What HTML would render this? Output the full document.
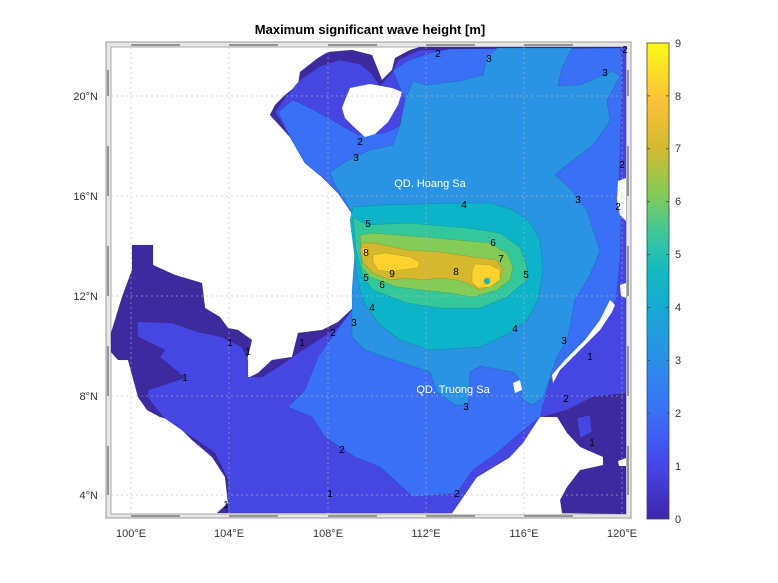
<!DOCTYPE html>
<html><head><meta charset="utf-8"><style>
body{margin:0;background:#fff;}
svg{display:block;font-family:"Liberation Sans",sans-serif;}
</style></head><body>
<svg width="778" height="583" viewBox="0 0 778 583" xmlns="http://www.w3.org/2000/svg">
<defs>
<linearGradient id="cb" x1="0" y1="1" x2="0" y2="0">
<stop offset="0" stop-color="#3e26a8"/>
<stop offset="0.11" stop-color="#4744e8"/>
<stop offset="0.22" stop-color="#3a6ff8"/>
<stop offset="0.33" stop-color="#2c8ee9"/>
<stop offset="0.44" stop-color="#17a9d4"/>
<stop offset="0.52" stop-color="#14b8c0"/>
<stop offset="0.6" stop-color="#3ec79a"/>
<stop offset="0.68" stop-color="#81cc59"/>
<stop offset="0.78" stop-color="#d2ba30"/>
<stop offset="0.88" stop-color="#fdc13a"/>
<stop offset="1" stop-color="#f9fb14"/>
</linearGradient>
</defs>
<text x="370" y="34" font-size="13" font-weight="bold" text-anchor="middle" fill="#000">Maximum significant wave height [m]</text>

<rect x="106" y="42" width="525" height="476" fill="#e6e6e6" stroke="#999" stroke-width="1"/>
<rect x="111" y="47" width="515" height="467" fill="#fff" stroke="#aaa" stroke-width="1"/>

<g stroke="rgba(0,0,0,0.18)" stroke-width="0.6" stroke-linejoin="round">
<polygon fill="#3d2a9f" points="328,52 352,50 372,55 378,70 382,80 392,70 395,58 410,50 420,47 626,47 626,514 562,513 560,500 567,487 580,470 603,465 603,457 580,447 567,433 557,417 540,417 523,443 510,457 477,477 452,513 217,513 228,503 225,477 212,457 192,440 172,420 160,417 147,410 138,397 128,360 118,360 111,352 111,333 122,297 132,270 132,245 153,245 153,265 175,275 202,283 205,308 220,317 228,328 238,330 252,340 247,360 248,378 258,373 272,360 292,357 298,333 322,330 338,322 353,308 358,275 356,260 354,235 352,215 353,207 338,193 322,177 305,163 290,137 270,115 275,105 285,95 298,85 300,72 318,58"/>
<polygon fill="#4646e2" points="137,322 148,322 172,323 198,332 222,337 232,342 242,347 248,360 248,377 262,377 278,367 298,353 318,340 338,327 353,310 358,280 356,250 353,215 338,193 322,177 305,163 290,137 275,112 285,98 300,80 320,66 340,60 360,64 372,74 380,86 392,72 398,60 420,50 626,48 626,393 593,397 567,410 543,417 523,443 510,457 477,477 452,513 228,513 228,480 215,453 192,437 163,417 148,398 148,390 185,378 160,357 165,350 138,337"/>
<polygon fill="#4646e2" points="577,418 590,415 592,432 580,438"/>
<polygon fill="#3a70f6" points="278,112 293,100 308,107 332,120 358,135 385,133 402,125 405,100 393,71 407,61 430,53 450,49 620,48 622,60 621,120 619,180 621,220 620,260 616,300 604,322 582,345 562,368 550,380 540,417 520,433 497,453 473,470 457,493 413,497 380,467 355,457 325,437 312,417 288,407 305,390 318,357 332,337 352,310 360,280 356,250 353,215 338,193 322,177 305,163 290,137"/>
<polygon fill="#2a93e4" points="330,172 345,162 370,150 393,145 400,125 405,100 413,81 427,85 460,81 483,75 487,58 497,48 572,48 562,68 558,86 580,85 613,71 620,76 607,101 610,121 593,145 567,165 555,175 570,188 587,211 600,251 590,275 575,300 567,340 557,357 550,377 543,397 533,405 523,400 520,380 513,372 480,366 470,372 468,405 455,405 437,392 430,372 385,357 365,350 352,337 352,315 352,290 355,250 353,215 345,200 335,185"/>
<polygon fill="#0db4c9" points="353,207 383,205 420,204 463,203 490,203 513,210 530,222 540,240 543,270 538,300 527,320 510,333 480,347 430,350 400,340 380,325 365,305 360,290 358,280 355,260 350,220"/>
<polygon fill="#35c79c" points="353,217 367,225 407,223 467,228 500,233 520,247 527,267 527,280 507,297 480,308 440,308 407,303 373,290 363,277 356,250"/>
<polygon fill="#85cb57" points="360,235 373,233 423,237 490,243 507,253 513,267 510,280 497,290 473,297 450,293 423,290 397,287 370,277 362,267"/>
<polygon fill="#d6b82e" points="362,243 373,243 407,250 440,252 473,257 497,260 503,270 497,283 480,290 467,283 457,280 440,278 423,280 407,278 390,280 373,273 363,263 360,250"/>
<polygon fill="#fdd22f" points="373,255 385,253 410,257 420,262 418,268 400,270 390,272 378,270 373,262"/>
<polygon fill="#fdd22f" points="362,248 368,248 369,256 363,257"/>
<polygon fill="#fdd22f" points="475,264 490,265 500,270 500,280 490,287 478,288 472,282 472,272"/>
<circle cx="487" cy="281" r="3" fill="#14b8c0"/>
</g>

<polygon fill="#fff" points="345,100 350,88 370,84 392,88 402,92 398,105 388,122 375,134 365,137 355,128 345,118 342,108"/>
<polygon fill="#fff" points="553,383 560,370 580,350 600,330 612,312 615,305 610,300 600,320 585,340 565,360 552,375"/>
<polygon fill="#fff" points="618,181 626,178 626,221 620,215 617,200"/>
<polygon fill="#fff" points="620,285 626,283 626,298 621,296"/>
<polygon fill="#fff" points="618,461 626,458 626,466 619,466"/>
<polygon fill="#fff" points="452,514 477,477 510,463 510,457 523,443 540,417 557,417 567,433 580,447 603,457 603,465 580,470 567,487 560,500 562,514"/>
<polygon fill="#fff" points="513,383 520,380 522,390 515,393"/>

<g stroke="#bbb" stroke-width="0.7" stroke-dasharray="2,3" opacity="0.8">
<line x1="131" y1="47" x2="131" y2="514"/><line x1="229" y1="47" x2="229" y2="514"/>
<line x1="328" y1="47" x2="328" y2="514"/><line x1="426" y1="47" x2="426" y2="514"/>
<line x1="524" y1="47" x2="524" y2="514"/><line x1="622" y1="47" x2="622" y2="514"/>
<line x1="111" y1="96" x2="626" y2="96"/><line x1="111" y1="196" x2="626" y2="196"/>
<line x1="111" y1="296" x2="626" y2="296"/><line x1="111" y1="396" x2="626" y2="396"/>
<line x1="111" y1="495" x2="626" y2="495"/>
</g>
<g stroke="#444" stroke-width="1">
<line x1="131" y1="45" x2="180" y2="45"/><line x1="229" y1="45" x2="278" y2="45"/><line x1="328" y1="45" x2="377" y2="45"/><line x1="426" y1="45" x2="475" y2="45"/><line x1="524" y1="45" x2="573" y2="45"/>
<line x1="131" y1="516" x2="180" y2="516"/><line x1="229" y1="516" x2="278" y2="516"/><line x1="328" y1="516" x2="377" y2="516"/><line x1="426" y1="516" x2="475" y2="516"/><line x1="524" y1="516" x2="573" y2="516"/>
<line x1="108" y1="70" x2="108" y2="96"/><line x1="108" y1="146" x2="108" y2="196"/><line x1="108" y1="246" x2="108" y2="296"/><line x1="108" y1="346" x2="108" y2="396"/><line x1="108" y1="446" x2="108" y2="495"/>
<line x1="628" y1="70" x2="628" y2="96"/><line x1="628" y1="146" x2="628" y2="196"/><line x1="628" y1="246" x2="628" y2="296"/><line x1="628" y1="346" x2="628" y2="396"/><line x1="628" y1="446" x2="628" y2="495"/>
</g>

<g font-size="10" fill="#000" text-anchor="middle">
<text x="438" y="57">2</text><text x="489" y="62">3</text><text x="605" y="76">3</text><text x="625" y="53">2</text>
<text x="360" y="145">2</text><text x="356" y="161">3</text><text x="464" y="208">4</text><text x="368" y="227">5</text>
<text x="493" y="246">6</text><text x="501" y="262">7</text><text x="526" y="278">5</text><text x="456" y="275">8</text>
<text x="366" y="256">8</text><text x="392" y="277">9</text><text x="382" y="288">6</text><text x="366" y="281">5</text>
<text x="372" y="311">4</text><text x="354" y="326">3</text><text x="333" y="336">2</text><text x="302" y="346">1</text>
<text x="248" y="355">1</text><text x="230" y="346">1</text><text x="185" y="381">1</text><text x="515" y="332">4</text>
<text x="564" y="344">3</text><text x="566" y="402">2</text><text x="590" y="360">1</text><text x="466" y="410">3</text>
<text x="342" y="453">2</text><text x="457" y="497">2</text><text x="330" y="497">1</text><text x="226" y="508">1</text>
<text x="578" y="203">3</text><text x="622" y="168">2</text><text x="618" y="210">2</text><text x="592" y="446">1</text>
</g>
<text x="430" y="187" font-size="11" fill="#fff" text-anchor="middle">QD. Hoang Sa</text>
<text x="453" y="393" font-size="11" fill="#fff" text-anchor="middle">QD. Truong Sa</text>

<g font-size="11" fill="#333" text-anchor="middle">
<text x="131" y="537">100°E</text><text x="229" y="537">104°E</text><text x="328" y="537">108°E</text>
<text x="426" y="537">112°E</text><text x="524" y="537">116°E</text><text x="622" y="537">120°E</text>
</g>
<g font-size="11" fill="#333" text-anchor="end">
<text x="98" y="100">20°N</text><text x="98" y="200">16°N</text><text x="98" y="300">12°N</text>
<text x="98" y="400">8°N</text><text x="98" y="499">4°N</text>
</g>

<rect x="647" y="43" width="22" height="476" fill="url(#cb)" stroke="#444" stroke-width="0.8"/>
<g stroke="#444" stroke-width="0.8">
<line x1="647" y1="95.9" x2="650" y2="95.9"/><line x1="666" y1="95.9" x2="669" y2="95.9"/>
<line x1="647" y1="148.8" x2="650" y2="148.8"/><line x1="666" y1="148.8" x2="669" y2="148.8"/>
<line x1="647" y1="201.7" x2="650" y2="201.7"/><line x1="666" y1="201.7" x2="669" y2="201.7"/>
<line x1="647" y1="254.6" x2="650" y2="254.6"/><line x1="666" y1="254.6" x2="669" y2="254.6"/>
<line x1="647" y1="307.4" x2="650" y2="307.4"/><line x1="666" y1="307.4" x2="669" y2="307.4"/>
<line x1="647" y1="360.3" x2="650" y2="360.3"/><line x1="666" y1="360.3" x2="669" y2="360.3"/>
<line x1="647" y1="413.2" x2="650" y2="413.2"/><line x1="666" y1="413.2" x2="669" y2="413.2"/>
<line x1="647" y1="466.1" x2="650" y2="466.1"/><line x1="666" y1="466.1" x2="669" y2="466.1"/>
</g>
<g font-size="11" fill="#333">
<text x="675" y="523">0</text><text x="675" y="470">1</text><text x="675" y="417">2</text><text x="675" y="364">3</text>
<text x="675" y="311">4</text><text x="675" y="258">5</text><text x="675" y="205">6</text><text x="675" y="152">7</text>
<text x="675" y="100">8</text><text x="675" y="47">9</text>
</g>
</svg>
</body></html>
